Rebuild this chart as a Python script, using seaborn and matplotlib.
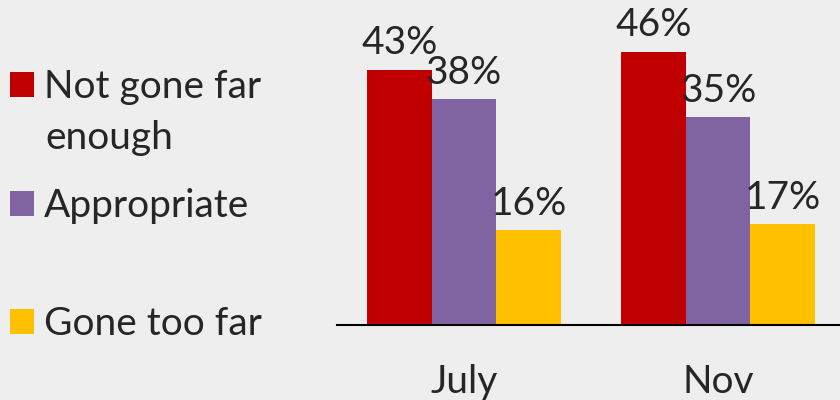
import matplotlib
matplotlib.use("Agg")
import matplotlib.pyplot as plt
import pandas as pd
import seaborn as sns

# Dados.
periodos = ["July", "Nov"]
respostas = ["Not gone far enough", "Appropriate", "Gone too far"]
valores_july = [43, 38, 16]
valores_nov = [46, 35, 17]
rotulos_legenda = ["Not gone far", "Appropriate", "Gone too far"]
cores = ["#C00000", "#8064A2", "#FFC000"]

FUNDO = "#EEEEEE"
FONTE = 28


def montar_tabela():
    linhas = []
    for periodo, valores in zip(periodos, [valores_july, valores_nov]):
        for resposta, valor in zip(respostas, valores):
            linhas.append({"periodo": periodo, "resposta": resposta, "valor": valor})
    return pd.DataFrame(linhas)


def main():
    sns.set_theme(style="white")
    plt.rcParams["font.family"] = ["Lato", "DejaVu Sans"]

    dados = montar_tabela()

    fig = plt.figure(figsize=(8.4, 4.0), dpi=100, facecolor=FUNDO)
    ax = fig.add_axes([0.401, 0.1875, 0.599, 0.8125])
    ax.set_facecolor(FUNDO)

    sns.barplot(
        data=dados,
        x="periodo",
        y="valor",
        hue="resposta",
        hue_order=respostas,
        order=periodos,
        palette=cores,
        saturation=1,
        width=0.764,
        gap=0,
        linewidth=0,
        ax=ax,
        legend=False,
    )

    for container in ax.containers:
        ax.bar_label(
            container,
            labels=[f"{v:.0f}%" for v in container.datavalues],
            padding=6,
            fontsize=FONTE,
        )

    ax.set_xlim(-0.5, 1.48)
    ax.set_ylim(0, 54.7)
    ax.set_xlabel("")
    ax.set_ylabel("")
    ax.set_yticks([])
    ax.tick_params(axis="x", length=0, pad=28, labelsize=FONTE)
    for lado in ["top", "right", "left"]:
        ax.spines[lado].set_visible(False)
    ax.spines["bottom"].set_color("black")
    ax.spines["bottom"].set_linewidth(1.5)

    # Legenda à esquerda, com espaçamento irregular como no original.
    posicoes_y = [0.7825, 0.485, 0.19]
    for container, rotulo, y in zip(ax.containers, rotulos_legenda, posicoes_y):
        fig.legend(
            [container.patches[0]],
            [rotulo],
            loc="center left",
            bbox_to_anchor=(10 / 840, y),
            frameon=False,
            fontsize=FONTE,
            handlelength=0.62,
            handleheight=0.62,
            handletextpad=0.25,
            borderaxespad=0,
            borderpad=0,
        )
    # Segunda linha do primeiro item da legenda.
    fig.text(45 / 840, 1 - 138 / 400, "enough", fontsize=FONTE, va="center", ha="left")

    fig.savefig("out.png", dpi=100, facecolor=FUNDO)
    plt.close(fig)


if __name__ == "__main__":
    main()
